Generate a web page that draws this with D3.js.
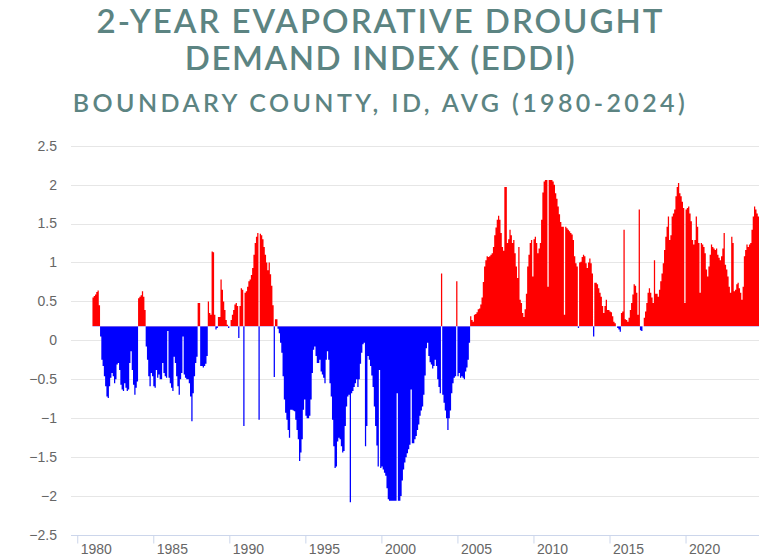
<!DOCTYPE html>
<html><head><meta charset="utf-8">
<script src="https://cdn.jsdelivr.net/npm/d3@7"></script>
<style>body{margin:0;background:#fff} svg{display:block}</style>
</head><body><svg id="c" width="759" height="558"></svg>
<script>
// ---------- data ----------
const titleLines = ["2-YEAR EVAPORATIVE DROUGHT", "DEMAND INDEX (EDDI)"];
const subtitle = "BOUNDARY COUNTY, ID, AVG (1980-2024)";
const yTicks = [-2.5, -2, -1.5, -1, -0.5, 0, 0.5, 1, 1.5, 2, 2.5];
const xTicks = [1980, 1985, 1990, 1995, 2000, 2005, 2010, 2015, 2020];
const firstYear = 1981;        // monthly values, starting January 1981
const threshold = 0.18;        // red above, blue below

const eddi1980s = [
  0.55, 0.57, 0.59, 0.62, 0.64, 0.45, 0.05, -0.25, -0.33, -0.46, -0.59, -0.72,
  -0.74, -0.59, -0.48, -0.42, -0.46, -0.55, -0.5, -0.31, -0.29, -0.38, -0.57, -0.63,
  -0.65, -0.55, -0.61, -0.65, -0.63, -0.29, -0.14, -0.38, -0.57, -0.7, -0.61, -0.53,
  0.54, 0.56, 0.58, 0.63, 0.56, 0.39, -0.08, -0.25, -0.46, -0.59, -0.42, -0.46,
  -0.59, -0.61, -0.38, -0.48, -0.44, -0.5, -0.5, -0.29, -0.42, -0.46, -0.48, 0.12,
  -0.48, -0.55, -0.61, -0.65, -0.21, -0.29, -0.46, -0.59, -0.7, -0.5, -0.42, 0.05,
  -0.44, -0.48, -0.5, -0.5, -0.55, -0.72, -1.04, -0.68, -0.46, -0.29, -0.21, 0.48,
  0.48, -0.33, -0.33, -0.35, -0.33, -0.3, -0.2, 0.5, 0.35, 0.33, 1.14, 1.13,
  0.33, 0.14, 0.16, 0.3, 0.3, 0.78, 0.65, 0.5, 0.39, 0.26, 0.2, 0.16
];
const eddi1990s = [
  0.18, 0.26, 0.33, 0.39, 0.46, 0.48, 0.44, 0.03, 0.44, 0.67, 0.65, -1.1,
  0.61, 0.63, 0.69, 0.76, 0.78, 0.84, 0.93, 1.1, 1.25, 1.33, 1.38, -1.02,
  1.37, 1.35, 1.3, 1.2, 1.1, 1.0, 0.9, 1.0, 0.85, 0.7, 0.45, -0.47,
  0.27, 0.27, 0.15, 0.09, -0.03, -0.16, -0.46, -0.76, -0.93, -1.02, -1.15, -1.25,
  -0.89, -0.89, -0.9, -0.91, -1.02, -1.15, -1.27, -1.55, -1.44, -1.27, -0.89, -0.76,
  -0.97, -1.0, -1.0, -0.97, -0.76, -0.42, -0.12, -0.08, -0.2, -0.29, -0.29, -0.25,
  -0.4, -0.44, -0.48, -0.55, -0.25, -0.14, -0.25, -0.55, -0.72, -1.02, -1.36, -1.64,
  -1.62, -1.3, -1.25, -1.27, -1.36, -1.44, -1.42, -1.1, -0.85, -0.72, -0.7, -2.08,
  -0.68, -0.65, -0.6, -0.55, -0.5, -0.6, -0.5, -0.3, -0.16, -0.05, -0.03, -1.36,
  -1.1, -0.2, -0.25, -0.33, -0.45, -0.6, -0.85, -1.1, -1.35, -1.62, -0.38, -1.64
];
const eddi2000s = [
  -1.62, -1.66, -1.7, -1.74, -1.9, -2.04, -2.06, -2.06, -2.06, -2.06, -2.06, -2.06,
  -0.68, -2.06, -2.06, -2.0, -1.8, -1.66, -1.57, -1.5, -1.45, -1.4, -1.34, -0.63,
  -1.32, -1.32, -1.27, -1.23, -1.15, -1.08, -0.97, -0.9, -0.85, -0.7, -0.45, -0.1,
  -0.03, -0.2, -0.28, -0.31, -0.36, -0.33, -0.25, -0.33, -0.5, -0.6, -0.68, 0.86,
  -0.7, -0.8, -0.9, -1.0, -1.15, -1.0, -0.9, -0.68, -0.55, -0.48, -0.46, 0.76,
  -0.46, -0.42, -0.48, -0.46, -0.48, -0.5, -0.4, -0.35, -0.25, -0.03, 0.31, 0.26,
  0.24, 0.33, 0.34, 0.36, 0.4, 0.41, 0.46, 0.55, 0.75, 0.95, 1.03, 1.08,
  1.07, 1.08, 1.1, 1.12, 1.2, 1.35, 1.45, 1.55, 1.6, 1.55, 1.38, 1.2,
  1.15, 1.97, 1.97, 1.25, 1.3, 1.42, 1.35, 1.25, 1.29, 1.12, 0.95, 0.8,
  1.2, 0.52, 0.48, 0.35, 0.3, 0.4, 0.6, 0.95, 1.1, 1.25, 1.29, 0.82
];
const eddi2010s = [
  1.3, 1.33, 1.25, 1.12, 1.18, 1.25, 1.55, 1.9, 2.04, 2.06, 2.06, 0.69,
  2.06, 2.06, 2.06, 2.04, 2.0, 1.89, 1.82, 1.72, 1.62, 1.52, 1.46, 1.46,
  0.33, 1.46, 1.44, 1.42, 1.4, 1.38, 1.36, 1.29, 1.08, 0.99, 0.95, 0.16,
  1.0, 1.01, 1.07, 1.1, 1.08, 0.99, 0.93, 1.0, 1.05, 0.99, 0.86, 0.05,
  0.74, 0.74, 0.72, 0.67, 0.61, 0.56, 0.44, 0.35, 0.44, 0.52, 0.39, 0.39,
  0.37, 0.36, 0.31, 0.24, 0.22, 0.18, 0.16, 0.14, 0.11, 0.35, 0.37, 1.42,
  0.27, 0.26, 0.24, 0.29, 0.39, 0.48, 0.59, 0.72, 0.7, 0.61, 0.33, 1.68,
  0.13, 0.12, 0.18, 0.29, 0.37, 0.48, 0.61, 0.67, 0.61, 0.55, 0.48, 1.03,
  0.6, 0.6, 0.56, 0.65, 0.76, 0.86, 0.99, 1.16, 1.33, 1.46, 1.59, 1.29,
  1.35, 1.59, 1.63, 1.68, 1.85, 1.97, 2.02, 1.89, 1.85, 1.78, 1.7, 0.48
];
const eddi2020s = [
  1.68, 1.7, 1.72, 1.63, 1.53, 1.29, 1.23, 1.29, 1.59, 1.46, 1.25, 0.61,
  1.25, 1.23, 1.2, 1.12, 0.91, 0.82, 0.95, 1.1, 1.23, 1.2, 1.18, 1.16,
  1.18, 1.1, 1.06, 1.03, 1.08, 1.18, 1.38, 0.97, 0.91, 0.82, 0.69, 0.61,
  1.33, 1.25, 0.63, 0.65, 0.72, 0.74, 0.67, 0.61, 0.52, 0.69, 1.08, 1.16,
  1.23, 1.2, 1.23, 1.25, 1.42, 1.59, 1.72, 1.68, 1.63, 1.59
];

// ---------- chart ----------
const values = [].concat(eddi1980s, eddi1990s, eddi2000s, eddi2010s, eddi2020s);
const data = values.map((v, i) => ({ t: firstYear + i / 12, v }));
data.push({ t: firstYear + values.length / 12, v: values[values.length - 1] });

const svg = d3.select("#c");
const W = 759, H = 558;
const plot = { left: 71, right: 759, top: 145.7, bottom: 535 };
const textFont = "'Liberation Sans', Arial, sans-serif";
const titleFont = "Lato, 'Open Sans', sans-serif";
const titleColor = "#5c8482";

const x = d3.scaleLinear().domain([1979.59, 2024.83]).range([plot.left, plot.right]);
const y = d3.scaleLinear().domain([-2.5, 2.5]).range([plot.bottom, plot.top]);

// titles
function fitText(sel, target) {
  const n = sel.text().length;
  const w = sel.node().getComputedTextLength();
  sel.attr("letter-spacing", ((target - w) / (n - 1)).toFixed(2) + "px");
}
function addTitle(txt, yy, size, target) {
  const t = svg.append("text").attr("x", W / 2 + 1).attr("y", yy)
    .attr("text-anchor", "middle").style("font-family", titleFont)
    .style("font-size", size + "px").style("font-weight", 600).attr("fill", titleColor)
    .text(txt);
  fitText(t, target);
}
addTitle(titleLines[0], 33, 33, 566);
addTitle(titleLines[1], 70, 33, 390);
addTitle(subtitle, 112, 25, 612);

// gridlines
svg.append("g").selectAll("line").data(yTicks.filter(d => d !== -2.5)).join("line")
  .attr("x1", plot.left).attr("x2", plot.right)
  .attr("y1", d => Math.round(y(d)) + 0.5).attr("y2", d => Math.round(y(d)) + 0.5)
  .attr("stroke", "#e6e6e6").attr("stroke-width", 1);

// y labels
svg.append("g").selectAll("text").data(yTicks).join("text")
  .attr("x", 57).attr("y", d => y(d)).attr("dy", "0.35em")
  .attr("text-anchor", "end").style("font-family", textFont).style("font-size", "14px")
  .attr("fill", "#666").text(d => d3.format("")(d));

// areas
const base = y(threshold);
const defs = svg.append("defs");
defs.append("clipPath").attr("id", "above").append("rect")
  .attr("x", plot.left).attr("y", plot.top - 10).attr("width", plot.right - plot.left)
  .attr("height", base - plot.top + 10);
defs.append("clipPath").attr("id", "below").append("rect")
  .attr("x", plot.left).attr("y", base).attr("width", plot.right - plot.left)
  .attr("height", plot.bottom - base);

const area = d3.area().x(d => x(d.t)).y0(base).y1(d => y(d.v)).curve(d3.curveStepAfter);
svg.append("path").datum(data).attr("d", area).attr("fill", "#ff0000").attr("clip-path", "url(#above)");
svg.append("path").datum(data).attr("d", area).attr("fill", "#0000ff").attr("clip-path", "url(#below)");

// x axis
const xAxis = d3.axisBottom(x).tickValues(xTicks).tickFormat(d3.format("d")).tickSize(8).tickPadding(6);
const gx = svg.append("g").attr("transform", `translate(0,${Math.round(plot.bottom) + 0.5})`).call(xAxis);
gx.select(".domain").attr("stroke", "#ccd6eb").attr("d", `M${plot.left},0H${plot.right}`);
gx.selectAll(".tick line").attr("stroke", "#ccd6eb");
gx.selectAll(".tick text").attr("text-anchor", "start").attr("x", 3).attr("y", 9)
  .attr("dy", "0.71em")
  .style("font-family", textFont).style("font-size", "14px").attr("fill", "#666");
</script>
</body></html>
